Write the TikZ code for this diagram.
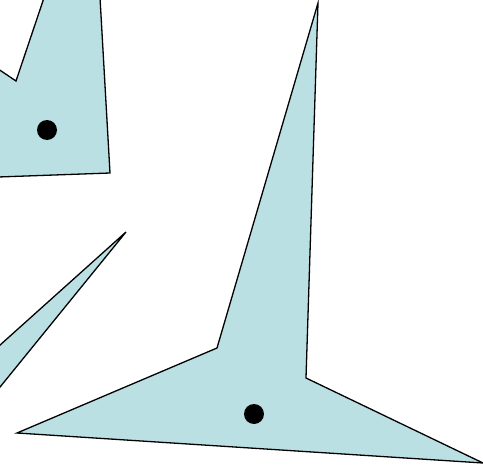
\documentclass[tikz,border=0pt]{standalone}
\usepackage{tikz}
\definecolor{shapefill}{RGB}{186,224,228}

\begin{document}
\begin{tikzpicture}[
        x=1pt, y=-1pt,
        piece/.style={draw=black, fill=shapefill, line width=1.3pt, line join=miter},
        spot/.style={fill=black}
    ]
        % Frame
        \useasboundingbox (0,0) rectangle (483,466);
        \clip (0,0) rectangle (483,466);

        % Top left piece
        \draw[piece] (-30,50) -- (16,81) -- (50,-20) -- (99,-20) -- (110,173) -- (-30,178) -- cycle;
        \fill[spot] (47,130) circle (10);

        % Thin sliver
        \draw[piece] (126,232) -- (-30,372) -- (-30,424) -- cycle;

        % Large piece
        \draw[piece] (318,3) -- (306,378) -- (483,463) -- (17,433) -- (217,348) -- cycle;
        \fill[spot] (254,414) circle (10);

    \end{tikzpicture}
\end{document}
